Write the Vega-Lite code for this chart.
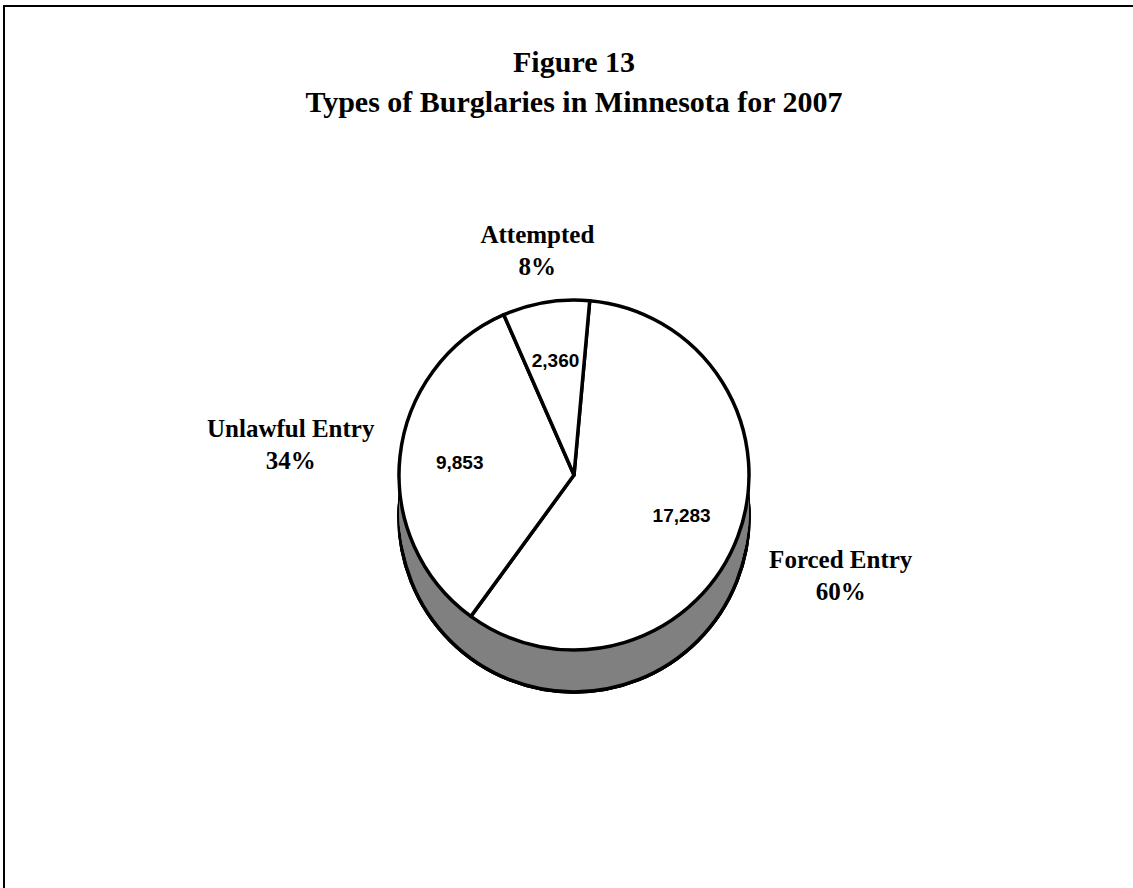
{
  "$schema": "https://vega.github.io/schema/vega-lite/v6.json",
  "width": 1140,
  "height": 900,
  "autosize": {"type": "none"},
  "padding": {"left": 4, "top": 6, "right": 0, "bottom": 0},
  "background": "white",
  "view": {"stroke": "black", "strokeWidth": 2, "fill": "white"},
  "config": {
    "view": {"stroke": "black", "strokeWidth": 2},
    "text": {"font": "Liberation Serif", "fontWeight": "bold", "color": "black"}
  },
  "title": {
    "text": ["Figure 13", "Types of Burglaries in Minnesota for 2007"],
    "font": "Liberation Serif",
    "fontSize": 30,
    "fontWeight": "bold",
    "lineHeight": 40,
    "color": "black",
    "anchor": "middle",
    "frame": "group",
    "offset": -112
  },
  "data": {
    "values": [
      {"type": "Forced Entry", "count": 17283, "pct": "60%"},
      {"type": "Unlawful Entry", "count": 9853, "pct": "34%"},
      {"type": "Attempted", "count": 2360, "pct": "8%"}
    ]
  },
  "layer": [
    {
      "mark": {"type": "arc", "theta": 0, "theta2": 6.2832, "radius": 175, "fill": "#808080", "stroke": "black", "strokeWidth": 3.5, "yOffset": 61},
      "encoding": {}
    },
    {
      "mark": {"type": "arc", "theta": 0, "theta2": 6.2832, "radius": 175, "fill": "#808080", "strokeWidth": 0, "yOffset": 53},
      "encoding": {}
    },
    {
      "mark": {"type": "arc", "theta": 0, "theta2": 6.2832, "radius": 175, "fill": "#808080", "strokeWidth": 0, "yOffset": 45},
      "encoding": {}
    },
    {
      "mark": {"type": "arc", "theta": 0, "theta2": 6.2832, "radius": 175, "fill": "#808080", "strokeWidth": 0, "yOffset": 37},
      "encoding": {}
    },
    {
      "mark": {"type": "arc", "theta": 0, "theta2": 6.2832, "radius": 175, "fill": "#808080", "strokeWidth": 0, "yOffset": 29},
      "encoding": {}
    },
    {
      "mark": {"type": "arc", "radius": 175, "fill": "white", "stroke": "black", "strokeWidth": 3.5, "strokeJoin": "round", "yOffset": 19},
      "encoding": {
        "theta": {"field": "count", "type": "quantitative", "stack": true, "scale": {"range": [0.09, 6.3732]}},
        "order": {"field": "count", "type": "quantitative", "sort": "descending"}
      }
    },
    {
      "mark": {"type": "text", "radius": 115, "font": "Liberation Sans", "fontSize": 19, "fontWeight": "bold", "yOffset": 19},
      "encoding": {
        "theta": {"field": "count", "type": "quantitative", "stack": true},
        "order": {"field": "count", "type": "quantitative", "sort": "descending"},
        "text": {"field": "count", "type": "quantitative", "format": ",d"}
      }
    },
    {
      "mark": {"type": "text", "radius": 285, "fontSize": 25, "dy": -15, "yOffset": 19},
      "encoding": {
        "theta": {"field": "count", "type": "quantitative", "stack": true},
        "order": {"field": "count", "type": "quantitative", "sort": "descending"},
        "text": {"condition": {"test": "datum.type !== 'Attempted'", "field": "type"}, "value": ""}
      }
    },
    {
      "mark": {"type": "text", "radius": 285, "fontSize": 25, "dy": 17, "yOffset": 19},
      "encoding": {
        "theta": {"field": "count", "type": "quantitative", "stack": true},
        "order": {"field": "count", "type": "quantitative", "sort": "descending"},
        "text": {"condition": {"test": "datum.type !== 'Attempted'", "field": "pct"}, "value": ""}
      }
    },
    {
      "mark": {"type": "text", "radius": 228, "fontSize": 25, "dy": -15, "yOffset": 19},
      "encoding": {
        "theta": {"field": "count", "type": "quantitative", "stack": true},
        "order": {"field": "count", "type": "quantitative", "sort": "descending"},
        "text": {"condition": {"test": "datum.type === 'Attempted'", "field": "type"}, "value": ""}
      }
    },
    {
      "mark": {"type": "text", "radius": 228, "fontSize": 25, "dy": 17, "yOffset": 19},
      "encoding": {
        "theta": {"field": "count", "type": "quantitative", "stack": true},
        "order": {"field": "count", "type": "quantitative", "sort": "descending"},
        "text": {"condition": {"test": "datum.type === 'Attempted'", "field": "pct"}, "value": ""}
      }
    }
  ]
}
